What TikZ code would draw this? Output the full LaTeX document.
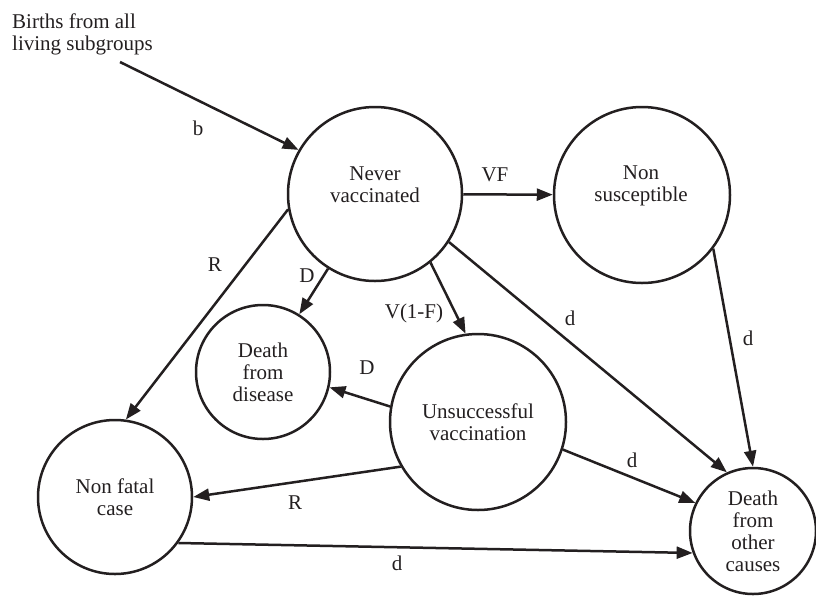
\documentclass[tikz,border=0pt]{standalone}
\usepackage{fontspec}
\setmainfont{Liberation Serif}
\usetikzlibrary{arrows.meta}
\definecolor{ink}{RGB}{35,31,32}
\begin{document}
\begin{tikzpicture}[x=1pt,y=-1pt,
  every node/.style={font=\fontsize{21}{22}\selectfont, text=ink},
  stnode/.style={circle, draw=ink, line width=2.5pt, inner sep=0pt, minimum size=#1, align=center},
  txt/.style={align=center, inner sep=0pt},
  lbl/.style={inner sep=0pt},
  flow/.style={draw=ink, line width=2.5pt, -{Triangle[length=16pt,width=12pt]}}]
\useasboundingbox (0,0) rectangle (816,598);

% states
\node[stnode=174pt] (nv) at (375,194) {};
\node[txt] (nvt) at (375,185) {Never\\vaccinated};
\node[stnode=176pt] (ns) at (642,195) {};
\node[txt] (nst) at (641,186) {Non\\susceptible};
\node[stnode=134pt] (dd) at (263,372) {Death\\from\\disease};
\node[stnode=176pt] (uv) at (478,422) {Unsuccessful\\vaccination};
\node[stnode=154pt] (nf) at (115,497) {Non fatal\\case};
\node[stnode=126pt] (do) at (753,531) {Death\\from\\other\\causes};

% births
\node[align=left, inner sep=0pt, anchor=north west] (births) at (12,14) {Births from all\\living subgroups};
\coordinate (bstart) at (120,62);

% flows
\draw[flow] (bstart) -- (nv.150);
\draw[flow] (nv) -- (ns);
\draw[flow] (nv) -- (dd);
\draw[flow] (nv.190) -- (nf.82);
\draw[flow] (nv.309) -- (uv.98);
\draw[flow] (nv.327) -- (do.114);
\draw[flow] (ns.323) -- (do.90);
\draw[flow] (uv.170) -- (dd.347);
\draw[flow] (uv.210) -- (nf.0);
\draw[flow] (uv.342) -- (do.154);
\draw[flow] (nf.324) -- (do.200);

% labels
\node[lbl] (lb) at (198,128) {b};
\node[lbl] (lvf) at (495,175) {VF};
\node[lbl] (ld1) at (307,276) {D};
\node[lbl] (lr1) at (215,265) {R};
\node[lbl] (lv) at (414,313) {V(1-F)};
\node[lbl] (ld2) at (570,318) {d};
\node[lbl] (ld3) at (748,338) {d};
\node[lbl] (ld4) at (367,368) {D};
\node[lbl] (lr2) at (295,503) {R};
\node[lbl] (ld5) at (632,460) {d};
\node[lbl] (ld6) at (397,563) {d};
\end{tikzpicture}
\end{document}
